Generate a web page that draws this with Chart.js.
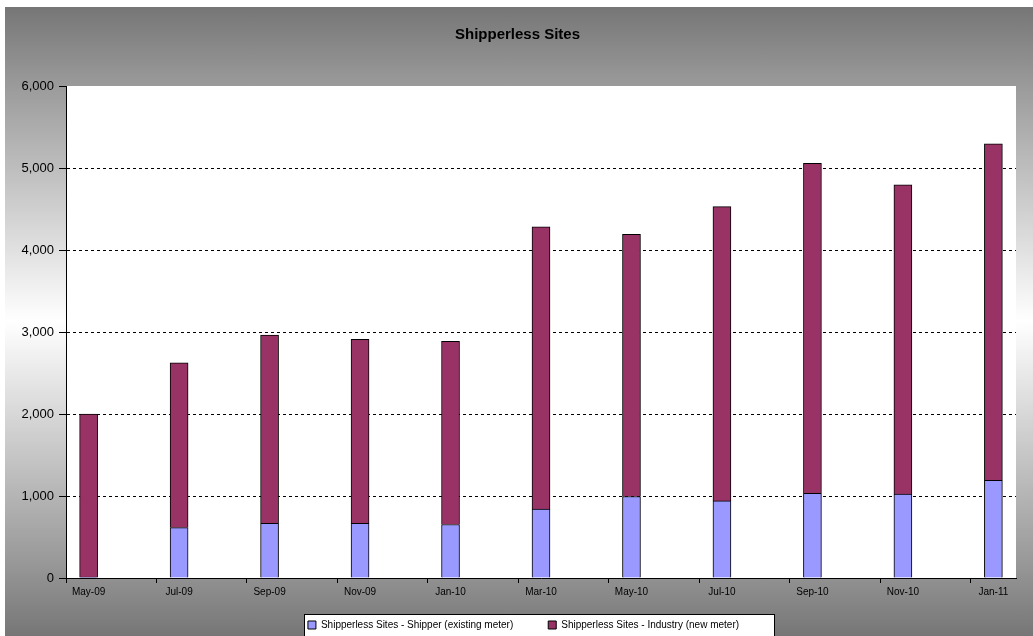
<!DOCTYPE html>
<html lang="en">

<head>
  <meta charset="UTF-8">
  <title>Shipperless Sites</title>
  <script src="https://cdn.jsdelivr.net/npm/chart.js"></script>
  <style>
    body { margin: 0; background: #fff; }
    #frame {
      position: absolute; left: 5px; top: 7px; width: 1028px; height: 629px; overflow: hidden;
      background: linear-gradient(to bottom, #767676 0%, #999 12%, #fff 50%, #999 88%, #767676 100%);
    }
    #box { position: relative; width: 1028px; height: 633px; }
  </style>
</head>

<body>
  <div id="frame">
    <div id="box"><canvas id="sitesChart"></canvas></div>
  </div>

  <script>
    // one bar every two months
    const categories = ['May-09', 'Jul-09', 'Sep-09', 'Nov-09', 'Jan-10', 'Mar-10',
      'May-10', 'Jul-10', 'Sep-10', 'Nov-10', 'Jan-11'];
    const shipper = [10, 615, 668, 668, 652, 842, 994, 940, 1034, 1022, 1190];
    const industry = [1990, 2010, 2295, 2243, 2234, 3442, 3196, 3588, 4022, 3774, 4106];
    const yMax = 6000;
    const yStep = 1000;

    // the x axis is monthly, so leave an empty month between the bars
    const labels = [];
    const shipperSlots = [];
    const industrySlots = [];
    categories.forEach((c, i) => {
      labels.push(c);
      shipperSlots.push(shipper[i]);
      industrySlots.push(industry[i]);
      if (i < categories.length - 1) {
        labels.push('');
        shipperSlots.push(null);
        industrySlots.push(null);
      }
    });

    Chart.defaults.font.family = '"Liberation Sans", Arial, sans-serif';
    Chart.defaults.color = '#000';

    // white plot area and white legend frame, title/legend nudged right a bit
    const backdrop = {
      id: 'backdrop',
      afterLayout(chart) {
        chart.legend.left += 13;
        chart.legend.right += 13;
        chart.titleBlock.left += 7;
        chart.titleBlock.right += 7;
      },
      beforeDraw(chart) {
        const { ctx, chartArea } = chart;
        ctx.save();
        ctx.fillStyle = '#fff';
        ctx.fillRect(chartArea.left, chartArea.top, chartArea.right - chartArea.left, chartArea.bottom - chartArea.top);
        const hb = chart.legend.legendHitBoxes;
        if (hb && hb.length) {
          const last = hb[hb.length - 1];
          const x1 = Math.round(hb[0].left - 4) + 0.5;
          const x2 = Math.round(last.left + last.width + 35) + 0.5;
          const y1 = Math.round(hb[0].top - 6) + 0.5;
          ctx.fillRect(x1, y1, x2 - x1, chart.height - y1 + 5);
          ctx.strokeStyle = '#000';
          ctx.lineWidth = 1;
          ctx.strokeRect(x1, y1, x2 - x1, chart.height - y1 + 5);
        }
        ctx.restore();
      }
    };

    const ctx = document.getElementById('sitesChart').getContext('2d');
    new Chart(ctx, {
      type: 'bar',
      data: {
        labels: labels,
        datasets: [{
          label: 'Shipperless Sites - Shipper (existing meter)',
          data: shipperSlots,
          backgroundColor: '#9999FF',
          borderColor: '#000',
          borderWidth: 1,
          barThickness: 18
        }, {
          label: 'Shipperless Sites - Industry (new meter)',
          data: industrySlots,
          backgroundColor: '#993366',
          borderColor: '#000',
          borderWidth: 1,
          barThickness: 18
        }]
      },
      options: {
        responsive: true,
        maintainAspectRatio: false,
        animation: false,
        layout: { padding: { left: 0, right: 17, top: 0, bottom: 0 } },
        plugins: {
          title: {
            display: true,
            text: 'Shipperless Sites',
            font: { size: 15, weight: 'bold' },
            color: '#000',
            padding: { top: 19, bottom: 42 }
          },
          legend: {
            position: 'bottom',
            labels: {
              boxWidth: 8,
              boxHeight: 8,
              padding: 10,
              font: { size: 10 },
              color: '#000',
              generateLabels(chart) {
                const items = Chart.defaults.plugins.legend.labels.generateLabels(chart);
                items[0].text += '         ';
                return items;
              }
            }
          },
          tooltip: { enabled: false }
        },
        scales: {
          x: {
            stacked: true,
            afterFit(scale) { scale.height = 32; },
            grid: {
              drawOnChartArea: false,
              tickLength: 5,
              tickColor: (c) => (c.index % 2 === 0 ? '#000' : 'rgba(0,0,0,0)')
            },
            border: { color: '#000' },
            ticks: {
              autoSkip: false,
              maxRotation: 0,
              padding: 3,
              font: { size: 10 },
              color: '#000'
            }
          },
          y: {
            stacked: true,
            min: 0,
            max: yMax,
            afterFit(scale) { scale.width = 61; },
            grid: {
              color: (c) => (c.tick && (c.tick.value === 0 || c.tick.value === yMax) ? 'rgba(0,0,0,0)' : '#000'),
              tickColor: '#000',
              tickLength: 7
            },
            border: { color: '#000', dash: [3, 3] },
            ticks: {
              stepSize: yStep,
              padding: 5,
              font: { size: 13 },
              color: '#000',
              callback: (v) => v.toLocaleString('en-US')
            }
          }
        }
      },
      plugins: [backdrop]
    });
  </script>
</body>

</html>
